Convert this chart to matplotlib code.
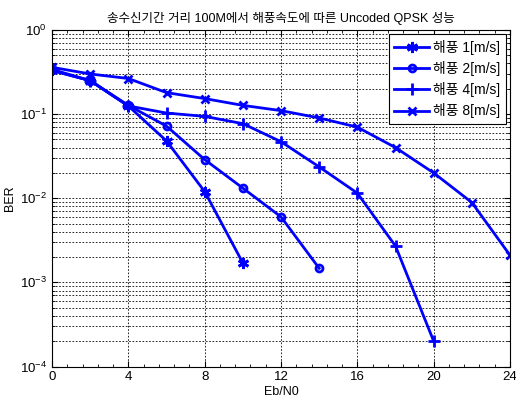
import matplotlib
matplotlib.use('Agg')
from matplotlib import pyplot as plt
from matplotlib.ticker import MultipleLocator, LogLocator, NullFormatter

plt.rcParams['font.family'] = ['Liberation Sans', 'Noto Sans CJK KR', 'DejaVu Sans']
plt.rcParams['mathtext.fontset'] = 'custom'
plt.rcParams['mathtext.rm'] = 'Liberation Sans'

# BER vs Eb/N0 for each wind speed
ebn0_1 = [0, 2, 4, 6, 8, 10]
ber_1 = [0.33, 0.25, 0.125, 0.048, 0.012, 0.0017]

ebn0_2 = [0, 2, 4, 6, 8, 10, 12, 14]
ber_2 = [0.33, 0.25, 0.127, 0.072, 0.0288, 0.0132, 0.006, 0.00147]

ebn0_4 = [0, 2, 4, 6, 8, 10, 12, 14, 16, 18, 20]
ber_4 = [0.34, 0.25, 0.125, 0.103, 0.094, 0.077, 0.047, 0.0236, 0.0115, 0.0027, 0.0002]

ebn0_8 = [0, 2, 4, 6, 8, 10, 12, 14, 16, 18, 20, 22, 24]
ber_8 = [0.36, 0.30, 0.265, 0.18, 0.153, 0.127, 0.11, 0.09, 0.07, 0.04, 0.02, 0.0089, 0.0021]

labels = ['해풍 1[m/s]', '해풍 2[m/s]', '해풍 4[m/s]', '해풍 8[m/s]']
title = '송수신기간 거리 100M에서 해풍속도에 따른 Uncoded QPSK 성능'

fig = plt.figure(figsize=(5.16, 4.04), dpi=100)
ax = fig.add_axes([0.1008, 0.0928, 0.8876, 0.833])

style = dict(color=(0, 0, 1), linewidth=2, markeredgewidth=2)
ax.semilogy(ebn0_1, ber_1, marker=(6, 2, 0), markersize=8, label=labels[0], **style)
ax.semilogy(ebn0_2, ber_2, marker='o', markersize=5, markerfacecolor='none', label=labels[1], **style)
ax.semilogy(ebn0_4, ber_4, marker='+', markersize=9, label=labels[2], **style)
ax.semilogy(ebn0_8, ber_8, marker='x', markersize=6, label=labels[3], **style)

ax.set_xlim(0, 24)
ax.set_ylim(1e-4, 1)
ax.xaxis.set_major_locator(MultipleLocator(4))
ax.xaxis.set_minor_locator(MultipleLocator(0.8))
ax.yaxis.set_major_locator(LogLocator(base=10, numticks=10))
ax.yaxis.set_minor_locator(LogLocator(base=10, subs=range(2, 10), numticks=10))
ax.yaxis.set_minor_formatter(NullFormatter())

ax.grid(True, which='major', axis='both', color='black', linestyle=(0, (2, 2)), linewidth=0.6)
ax.grid(True, which='minor', axis='y', color='black', linestyle=(0, (2, 2)), linewidth=0.6)
ax.tick_params(which='both', direction='in', top=True, right=True, labelsize=9.5)
ax.tick_params(which='major', length=4)
ax.tick_params(which='minor', length=2.5)
for s in ax.spines.values():
    s.set_linewidth(0.8)

ax.set_xlabel('Eb/N0', fontsize=9, labelpad=2)
ax.set_ylabel('BER', fontsize=9, labelpad=3)
ax.set_title(title, fontsize=9, pad=6)

leg = ax.legend(loc='upper right', fontsize=10, fancybox=False, framealpha=1,
                edgecolor='black', handlelength=2.5, borderaxespad=0.3,
                labelspacing=0.45, handletextpad=0.3, borderpad=0.4)
leg.get_frame().set_linewidth(0.8)

fig.savefig('out.png', dpi=100)
